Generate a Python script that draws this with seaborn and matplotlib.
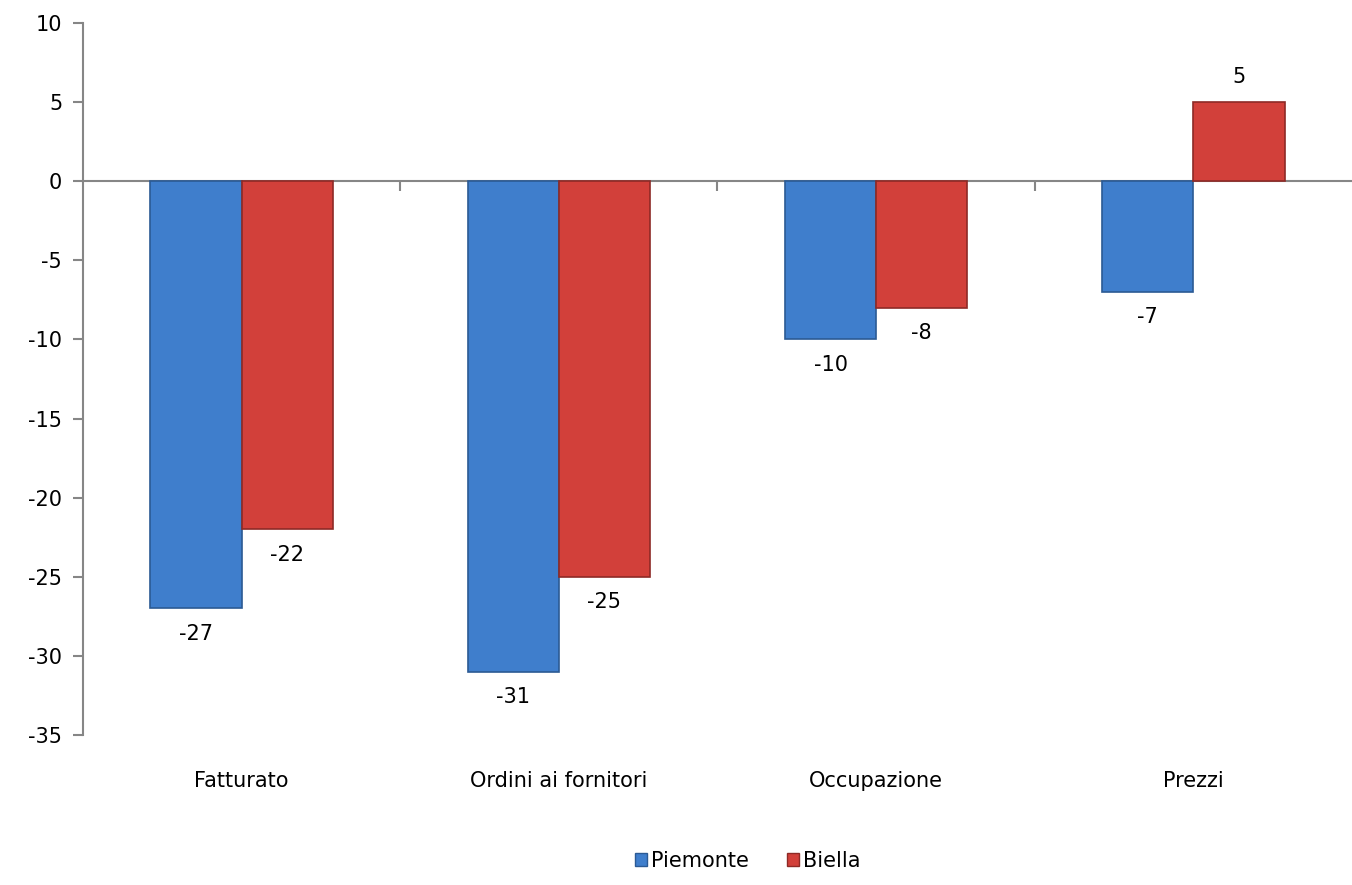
import pandas as pd
import seaborn as sns
import matplotlib.pyplot as plt

# --- Dati ---
categorie = ["Fatturato", "Ordini ai fornitori", "Occupazione", "Prezzi"]
piemonte = [-27, -31, -10, -7]
biella = [-22, -25, -8, 5]
serie = ["Piemonte", "Biella"]

df = pd.DataFrame({
    "categoria": categorie * 2,
    "valore": piemonte + biella,
    "serie": ["Piemonte"] * 4 + ["Biella"] * 4,
})

colori = {"Piemonte": "#3F7ECC", "Biella": "#D2403A"}
bordi = {"Piemonte": "#2B5A94", "Biella": "#8E2A26"}
grigio = "#868686"

sns.set_style("white")
plt.rcParams["font.family"] = ["DejaVu Sans"]
plt.rcParams["axes.unicode_minus"] = False
plt.rcParams["text.color"] = "black"
plt.rcParams["xtick.color"] = "black"
plt.rcParams["ytick.color"] = "black"

fig = plt.figure(figsize=(13.52, 8.85), dpi=100)
ax = fig.add_axes([83 / 1352, 1 - 735 / 885, 1 - 83 / 1352, (735 - 23) / 885])

sns.barplot(data=df, x="categoria", y="valore", hue="serie", order=categorie,
            hue_order=serie, palette=colori, width=0.575, gap=0, ax=ax,
            legend=False, saturation=1)

for cont, s in zip(ax.containers, serie):
    for b in cont:
        b.set_edgecolor(bordi[s])
        b.set_linewidth(1.2)
    ax.bar_label(cont, labels=[f"{v:g}" for v in cont.datavalues],
                 padding=11, fontsize=15, color="black")

# Assi
ax.set_ylim(-35, 10)
ax.set_xlim(-0.5, 3.5)
ax.set_yticks(range(-35, 11, 5))
ax.set_xlabel("")
ax.set_ylabel("")
for side in ["top", "right", "bottom"]:
    ax.spines[side].set_visible(False)
ax.spines["left"].set_color(grigio)
ax.spines["left"].set_linewidth(1.5)
ax.tick_params(axis="y", length=7, width=1.5, color=grigio, labelcolor="black",
               labelsize=15, pad=8, left=True)
ax.tick_params(axis="x", length=0, labelsize=15, labelcolor="black", pad=26)

# linea dello zero con tacche tra le categorie
sec = ax.secondary_xaxis(35 / 45)
for sp in sec.spines.values():
    sp.set_color(grigio)
    sp.set_linewidth(1.5)
sec.set_xticks([0.5, 1.5, 2.5])
sec.set_xticklabels([])
sec.tick_params(axis="x", length=7, width=1.5, color=grigio, direction="in")

# Legenda
handles = [plt.Rectangle((0, 0), 1, 1, facecolor=colori[s], edgecolor=bordi[s]) for s in serie]
fig.legend(handles, serie, loc="lower center", bbox_to_anchor=(0.553, -0.005), ncol=2,
           frameon=False, fontsize=15, handlelength=0.6, handleheight=0.6,
           handletextpad=0.2, columnspacing=1.8)

fig.savefig("out.png", dpi=100)
